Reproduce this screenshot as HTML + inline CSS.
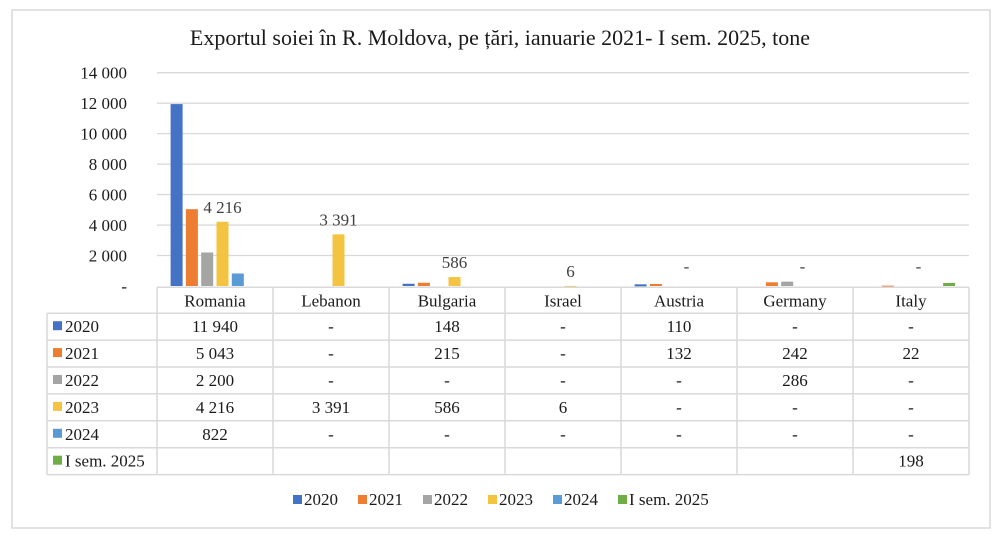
<!DOCTYPE html>
<html><head><meta charset="utf-8"><style>
body{margin:0;background:#fff;}
svg{display:block;font-family:"Liberation Serif",serif;}
</style></head><body>
<svg id="c" width="1004" height="536" viewBox="0 0 1004 536">
<rect x="12" y="10" width="978" height="518" fill="#fff" stroke="#d9d9d9" stroke-width="1.5"/>
<text x="500" y="45" text-anchor="middle" font-size="22" fill="#1a1a1a">Exportul soiei în R. Moldova, pe țări, ianuarie 2021- I sem. 2025, tone</text>
<g id="grid"></g><g id="bars"></g><g id="tbl"></g><g id="leg"></g>
</svg>
<script>
const categories=["Romania","Lebanon","Bulgaria","Israel","Austria","Germany","Italy"];
const seriesNames=["2020","2021","2022","2023","2024","I sem. 2025"];
const s2020=[11940,null,148,null,110,null,null];
const s2021=[5043,null,215,null,132,242,22];
const s2022=[2200,null,null,null,null,286,null];
const s2023=[4216,3391,586,6,null,null,null];
const s2024=[822,null,null,null,null,null,null];
const s2025=[null,null,null,null,null,null,198];
const yTicks=[0,2000,4000,6000,8000,10000,12000,14000];
const colors=["#4472C4","#ED7D31","#A5A5A5","#F5C342","#5B9BD5","#70AD47"];
const series=[s2020,s2021,s2022,s2023,s2024,s2025];
const NS="http://www.w3.org/2000/svg";
const x0=157,cw=116,y0=286,yTop=72.7,yMax=14000;
const yS=v=>y0-(v/yMax)*(y0-yTop);
const fmt=v=>v==null?"-":String(v).replace(/\B(?=(\d{3})+(?!\d))/g," ");
function el(tag,attrs,parent,txt){const e=document.createElementNS(NS,tag);for(const k in attrs)e.setAttribute(k,attrs[k]);if(txt!=null)e.textContent=txt;parent.appendChild(e);return e;}
const grid=document.getElementById('grid'),bars=document.getElementById('bars'),tbl=document.getElementById('tbl'),leg=document.getElementById('leg');
yTicks.forEach(t=>{
  const y=yS(t);
  if(t>0){const g=el('line',{x1:x0,x2:969,y1:y,y2:y,stroke:'#d9d9d9','stroke-width':1.3},grid);
  
  }
  const l=el('text',{x:127,y:y+6,'text-anchor':'end','font-size':17,fill:'#1a1a1a'},grid,t===0?"-":fmt(t));
  
  
});
const bw=12,step=15.3;
categories.forEach((c,i)=>{
  const gx=x0+i*cw+cw/2-(6*step)/2+1.5;
  series.forEach((s,j)=>{
    const v=s[i];
    if(v!=null&&v>0){
      const y=yS(v);
      const r=el('rect',{x:gx+j*step,y:y,width:bw,height:Math.max(y0-y,2),fill:colors[j]},bars);
      
      
    }
  });
  const v=s2023[i];
  const lx=gx+3*step+bw/2;
  const ly=v!=null&&v>0?yS(v)-9:272;
  const dl=el('text',{x:lx,y:ly,'text-anchor':'middle','font-size':17,fill:'#404040'},bars,fmt(v));
  
  
});
const rowH=26.9,tTop=287.3,lblX=47;
const lineAttr={stroke:'#d9d9d9','stroke-width':1.5};
el('line',Object.assign({x1:x0,x2:969,y1:tTop,y2:tTop},lineAttr),tbl);
for(let r=1;r<=7;r++){const y=tTop+r*rowH-1;el('line',Object.assign({x1:lblX,x2:969,y1:y,y2:y},lineAttr),tbl);}
el('line',Object.assign({x1:lblX,x2:lblX,y1:tTop+rowH-1,y2:tTop+7*rowH-1},lineAttr),tbl);
for(let k=0;k<=7;k++){const x=x0+k*cw;el('line',Object.assign({x1:x,x2:x,y1:tTop,y2:tTop+7*rowH-1},lineAttr),tbl);}
categories.forEach((c,i)=>{
  const t=el('text',{x:x0+i*cw+cw/2,y:tTop+19,'text-anchor':'middle','font-size':17,fill:'#1a1a1a'},tbl,c);
  
  
});
series.forEach((s,j)=>{
  const y=tTop+(j+1)*rowH+18;
  el('rect',{x:53,y:y-11,width:9,height:9,fill:colors[j]},tbl);
  const t=el('text',{x:65,y:y,'font-size':17,fill:'#1a1a1a'},tbl,seriesNames[j]);
  
  
  categories.forEach((c,i)=>{
    if(j===5&&s[i]==null)return;
    const v=el('text',{x:x0+i*cw+cw/2,y:y,'text-anchor':'middle','font-size':17,fill:'#1a1a1a'},tbl,fmt(s[i]));
    
    
  });
});
let lx=293;
seriesNames.forEach((n,j)=>{
  const g=el('g',{},leg);
  
  
  el('rect',{x:lx,y:495,width:9,height:9,fill:colors[j]},g);
  el('text',{x:lx+11,y:505,'font-size':17,fill:'#1a1a1a'},g,n);
  lx+=65;
});
</script>
</body></html>
